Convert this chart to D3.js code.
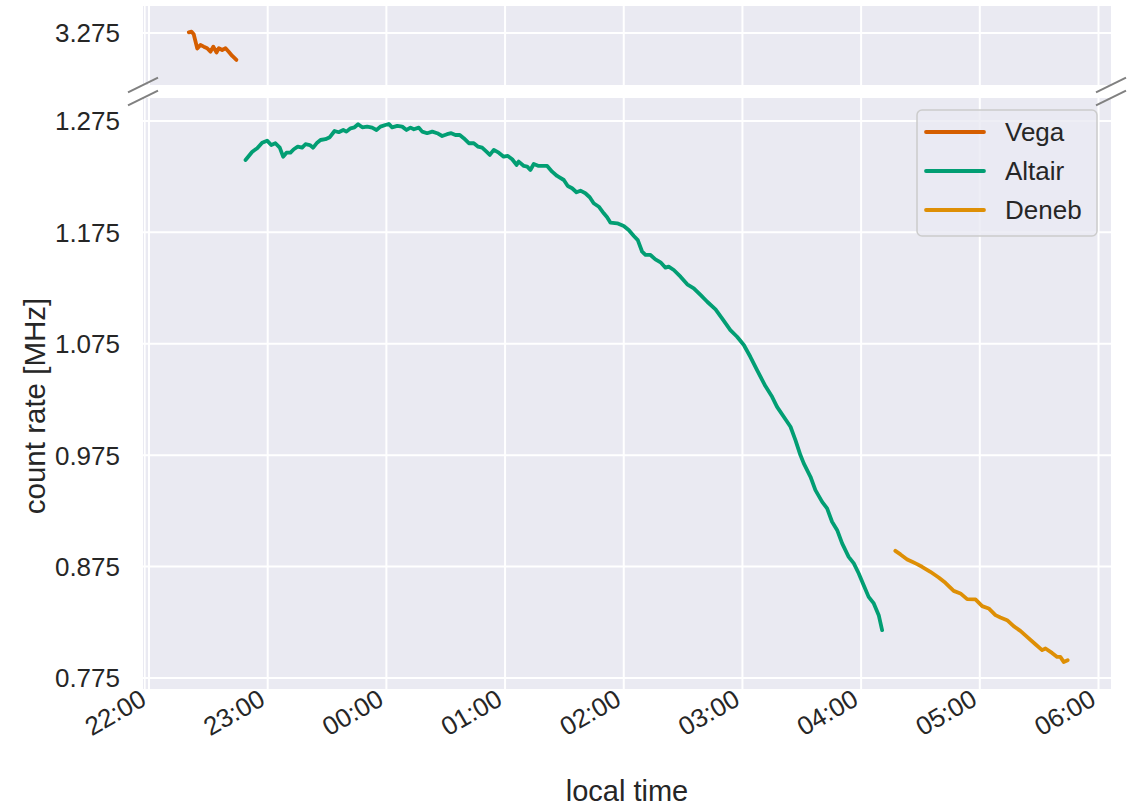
<!DOCTYPE html>
<html>
<head>
<meta charset="utf-8">
<script src="https://cdn.jsdelivr.net/npm/d3@7"></script>
<style>
  html, body { margin: 0; padding: 0; background: #ffffff; }
  svg { display: block; font-family: "Liberation Sans", Arial, sans-serif; }
</style>
</head>
<body>
<svg id="chart" width="1130" height="806"></svg>
<script>
// ---------------- DATA ----------------
// time is minutes after 22:00 local time, rate in MHz
const seriesNames = ["Vega", "Altair", "Deneb"];
const seriesColors = ["#d55e00", "#029e73", "#de8f05"];

const vegaMinutes = [20.1, 21.5, 22.6, 24.4, 26.0, 27.7, 29.4, 31.1, 32.5, 34.1, 35.3, 37.0, 38.7, 40.3, 42.1, 44.2];
const vegaRate = [3.2756, 3.2762, 3.2738, 3.2610, 3.2642, 3.2627, 3.2613, 3.2582, 3.2627, 3.2575, 3.2613, 3.2597, 3.2613, 3.2582, 3.2544, 3.2508];

const altairMinutes = [48.8, 52.2, 54.7, 57.2, 59.7, 61.8, 63.9, 66.1, 67.8, 69.5, 71.5, 73.2, 75.2, 77.4, 79.1, 81.3, 83.0, 85.0, 86.7, 89.2,
  91.4, 93.8, 95.9, 98.2, 99.8, 101.9, 103.9, 105.7, 107.8, 110.3, 112.8, 115.0, 117.0, 119.5, 121.2, 122.9, 125.5, 128.0, 130.2, 132.2,
  133.9, 136.4, 138.1, 140.6, 143.2, 145.7, 148.2, 150.7, 152.8, 154.9, 157.1, 159.1, 161.7, 164.2, 166.4, 168.4, 170.6, 172.3, 174.3, 176.8,
  179.3, 181.4, 183.6, 185.8, 186.9, 189.5, 191.2, 192.8, 194.5, 197.0, 201.3, 203.8, 206.3, 209.7, 211.7, 213.9, 216.1, 218.1, 220.6, 222.8,
  224.8, 227.4, 229.9, 231.6, 233.3, 236.7, 240.0, 242.5, 245.1, 247.1, 249.3, 251.0, 253.5, 256.0, 258.6, 261.1, 262.7, 265.3, 268.7, 272.1,
  275.4, 278.8, 282.2, 286.4, 289.7, 293.9, 297.3, 300.7, 304.0, 307.4, 311.6, 315.0, 317.5, 322.6, 324.3, 326.8, 329.3, 331.0, 334.4, 336.9,
  340.3, 342.8, 345.3, 347.9, 350.4, 353.7, 356.3, 358.8, 361.3, 363.8, 366.4, 368.9, 370.6];
const altairRate = [1.2400, 1.2474, 1.2505, 1.2555, 1.2573, 1.2534, 1.2550, 1.2510, 1.2429, 1.2465, 1.2465, 1.2496, 1.2519, 1.2510, 1.2541, 1.2534, 1.2510, 1.2555, 1.2579, 1.2586,
  1.2604, 1.2660, 1.2649, 1.2669, 1.2654, 1.2684, 1.2693, 1.2720, 1.2693, 1.2699, 1.2690, 1.2669, 1.2699, 1.2714, 1.2723, 1.2693, 1.2705, 1.2699, 1.2669, 1.2690,
  1.2675, 1.2690, 1.2654, 1.2640, 1.2654, 1.2640, 1.2615, 1.2631, 1.2640, 1.2624, 1.2624, 1.2595, 1.2550, 1.2550, 1.2519, 1.2510, 1.2474, 1.2445, 1.2490, 1.2465,
  1.2429, 1.2436, 1.2406, 1.2355, 1.2385, 1.2346, 1.2340, 1.2310, 1.2364, 1.2346, 1.2346, 1.2295, 1.2256, 1.2220, 1.2166, 1.2146, 1.2110, 1.2124, 1.2101, 1.2065,
  1.2011, 1.1980, 1.1921, 1.1885, 1.1837, 1.1831, 1.1807, 1.1771, 1.1717, 1.1681, 1.1576, 1.1547, 1.1547, 1.1508, 1.1481, 1.1433, 1.1442, 1.1412, 1.1352, 1.1284,
  1.1248, 1.1188, 1.1127, 1.1059, 1.0978, 1.0873, 1.0813, 1.0739, 1.0633, 1.0514, 1.0370, 1.0274, 1.0184, 1.0050, 1.0005, 0.9885, 0.9751, 0.9676, 0.9556, 0.9436,
  0.9331, 0.9272, 0.9152, 0.9077, 0.8958, 0.8837, 0.8778, 0.8688, 0.8583, 0.8478, 0.8419, 0.8314, 0.8179];

const denebMinutes = [377.3, 379.9, 383.3, 385.8, 388.3, 390.8, 395.0, 399.2, 402.6, 406.8, 410.2, 413.6, 417.8, 421.2, 424.5, 427.9, 430.4, 433.8, 437.1, 440.5,
  443.9, 448.1, 451.5, 453.2, 456.5, 459.1, 460.7, 462.4, 464.4];
const denebRate = [0.8891, 0.8859, 0.8814, 0.8793, 0.8772, 0.8748, 0.8703, 0.8652, 0.8604, 0.8532, 0.8509, 0.8458, 0.8455, 0.8395, 0.8374, 0.8314, 0.8293, 0.8269, 0.8215, 0.8173,
  0.8119, 0.8053, 0.8000, 0.8015, 0.7975, 0.7939, 0.7939, 0.7894, 0.7910];

const xTickLabels = ["22:00", "23:00", "00:00", "01:00", "02:00", "03:00", "04:00", "05:00", "06:00"];
const yTicksTop = [3.275];
const yTicksBottom = [0.775, 0.875, 0.975, 1.075, 1.175, 1.275];
const xLabel = "local time";
const yLabel = "count rate [MHz]";

// ---------------- LAYOUT ----------------
const svg = d3.select("#chart");
const panelLeft = 143, panelRight = 1111;
const topPanel = { y0: 6, y1: 85, domain: [3.2283, 3.2992] };
const botPanel = { y0: 98, y1: 689, domain: [0.7651, 1.2956] };
const textColor = "#262626";
const bg = "#eaeaf2";

const base = new Date(2000, 0, 1, 22, 0, 0);
const toDate = m => new Date(base.getTime() + m * 60000);

const x = d3.scaleTime().domain([toDate(0), toDate(480)]).range([149, 1098.5]);
const yTop = d3.scaleLinear().domain(topPanel.domain).range([topPanel.y1, topPanel.y0]);
const yBot = d3.scaleLinear().domain(botPanel.domain).range([botPanel.y1, botPanel.y0]);

const xTicks = d3.timeHour.every(1).range(toDate(0), toDate(481));
const fmt = d3.timeFormat("%H:%M");

function drawPanel(p, y, yTicks, cls) {
  const g = svg.append("g");
  g.append("rect").attr("x", panelLeft).attr("y", p.y0)
    .attr("width", panelRight - panelLeft).attr("height", p.y1 - p.y0).attr("fill", bg);
  g.append("line").attr("x1", 144.8).attr("x2", 144.8).attr("y1", p.y0).attr("y2", p.y1)
    .attr("stroke", "#ffffff").attr("stroke-width", 1.6);
  g.selectAll("line.vg").data(xTicks).join("line").attr("class", "vg")
    .attr("x1", d => x(d)).attr("x2", d => x(d)).attr("y1", p.y0).attr("y2", p.y1)
    .attr("stroke", "#ffffff").attr("stroke-width", 2);
  g.selectAll("line.hg").data(yTicks).join("line").attr("class", "hg")
    .attr("x1", panelLeft).attr("x2", panelRight).attr("y1", d => y(d)).attr("y2", d => y(d))
    .attr("stroke", "#ffffff").attr("stroke-width", 2);
  g.selectAll("text.yt").data(yTicks).join("text").attr("class", "yt")
    .attr("x", 120).attr("y", d => y(d)).attr("dy", "0.36em")
    .attr("text-anchor", "end").attr("fill", textColor).attr("font-size", 26)
    .text(d => d3.format(".3f")(d));
  const clipId = "clip-" + cls;
  svg.append("clipPath").attr("id", clipId).append("rect")
    .attr("x", panelLeft).attr("y", p.y0).attr("width", panelRight - panelLeft).attr("height", p.y1 - p.y0);
  return svg.append("g").attr("clip-path", `url(#${clipId})`);
}

const gTop = drawPanel(topPanel, yTop, yTicksTop, "top");
const gBot = drawPanel(botPanel, yBot, yTicksBottom, "bot");

function series(mins, vals) { return mins.map((m, i) => ({ t: toDate(m), v: vals[i] })); }

const lineTop = d3.line().x(d => x(d.t)).y(d => yTop(d.v));
const lineBot = d3.line().x(d => x(d.t)).y(d => yBot(d.v));
const LW = 3.8;

gTop.append("path").datum(series(vegaMinutes, vegaRate)).attr("d", lineTop)
  .attr("fill", "none").attr("stroke", seriesColors[0]).attr("stroke-width", LW)
  .attr("stroke-linejoin", "round").attr("stroke-linecap", "round");
gBot.append("path").datum(series(altairMinutes, altairRate)).attr("d", lineBot)
  .attr("fill", "none").attr("stroke", seriesColors[1]).attr("stroke-width", LW)
  .attr("stroke-linejoin", "round").attr("stroke-linecap", "round");
gBot.append("path").datum(series(denebMinutes, denebRate)).attr("d", lineBot)
  .attr("fill", "none").attr("stroke", seriesColors[2]).attr("stroke-width", LW)
  .attr("stroke-linejoin", "round").attr("stroke-linecap", "round");

// x tick labels (rotated 30deg, right aligned)
svg.selectAll("text.xt").data(xTicks).join("text").attr("class", "xt")
  .attr("transform", d => `translate(${x(d) - 1},${704}) rotate(-30)`)
  .attr("text-anchor", "end").attr("fill", textColor).attr("font-size", 26)
  .text((d, i) => xTickLabels[i] || fmt(d));

// axis labels
svg.append("text").attr("x", (panelLeft + panelRight) / 2).attr("y", 801)
  .attr("text-anchor", "middle").attr("fill", textColor).attr("font-size", 29).text(xLabel);
svg.append("text").attr("transform", "translate(45,406) rotate(-90)")
  .attr("text-anchor", "middle").attr("fill", textColor).attr("font-size", 29.5).text(yLabel);

// break marks
const brk = [[panelLeft, topPanel.y1], [panelLeft, botPanel.y0], [panelRight, topPanel.y1], [panelRight, botPanel.y0]];
svg.selectAll("line.brk").data(brk).join("line").attr("class", "brk")
  .attr("x1", d => d[0] - 15).attr("y1", d => d[1] + 7.3)
  .attr("x2", d => d[0] + 15).attr("y2", d => d[1] - 7.3)
  .attr("stroke", "#808080").attr("stroke-width", 2);

// legend
const lg = svg.append("g");
lg.append("rect").attr("x", 917).attr("y", 110).attr("width", 180).attr("height", 126)
  .attr("rx", 5).attr("fill", "rgba(234,234,242,0.8)").attr("stroke", "#cccccc").attr("stroke-width", 1.5);
seriesNames.forEach((name, i) => {
  const yy = 132 + i * 39;
  lg.append("line").attr("x1", 926).attr("x2", 984).attr("y1", yy).attr("y2", yy)
    .attr("stroke", seriesColors[i]).attr("stroke-width", LW).attr("stroke-linecap", "round");
  lg.append("text").attr("x", 1005).attr("y", yy).attr("dy", "0.36em")
    .attr("fill", textColor).attr("font-size", 26).text(name);
});
</script>
</body>
</html>
